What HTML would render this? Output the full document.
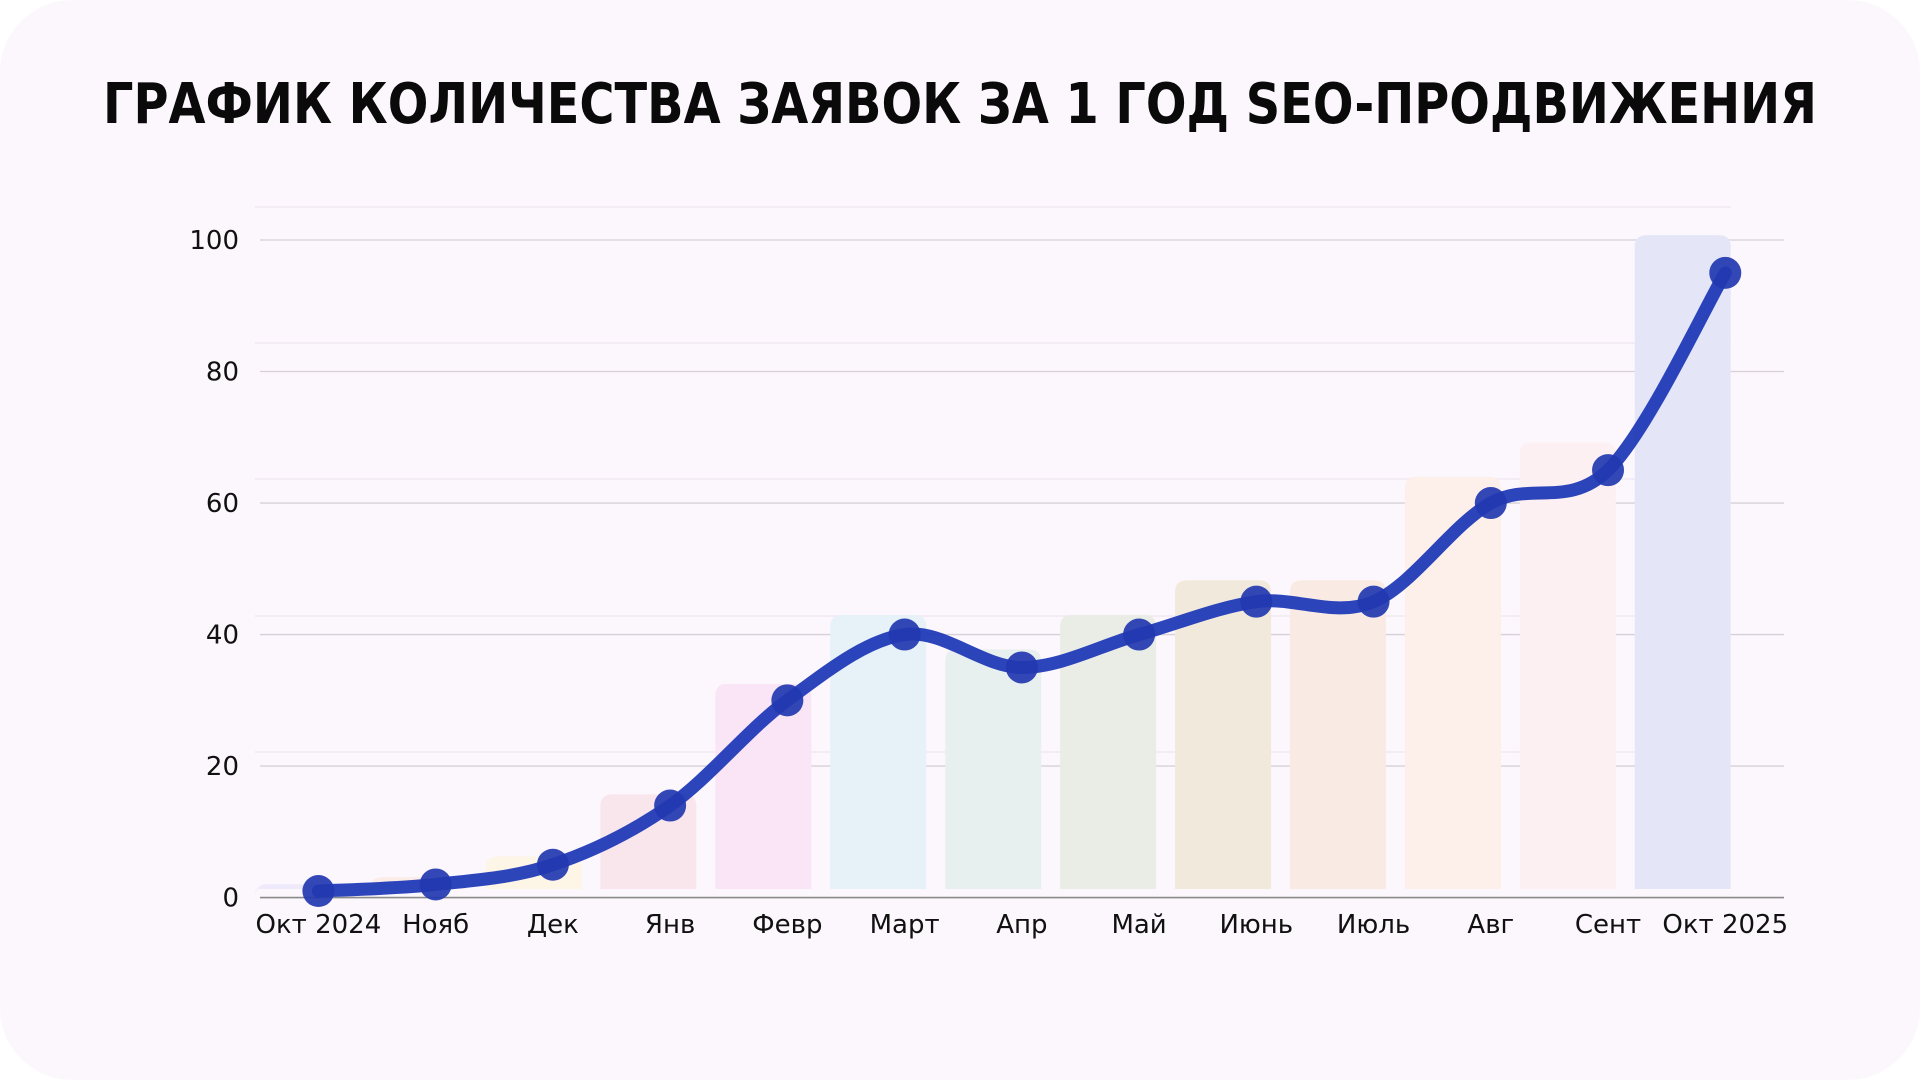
<!DOCTYPE html>
<html><head><meta charset="utf-8"><style>
html,body{margin:0;padding:0;background:#fff;width:1920px;height:1080px;overflow:hidden}
svg{display:block}
text{font-family:"DejaVu Sans","Liberation Sans",sans-serif}
</style></head><body>
<svg id="s" width="1920" height="1080" viewBox="0 0 1920 1080" xmlns="http://www.w3.org/2000/svg">
<rect x="0" y="0" width="1920" height="1080" rx="72" fill="#fcf7fd"/>
<text x="960" y="123" text-anchor="middle" font-family="Liberation Sans, sans-serif" font-weight="bold" font-size="56" textLength="1714" lengthAdjust="spacingAndGlyphs" fill="#0a0a0a">ГРАФИК КОЛИЧЕСТВА ЗАЯВОК ЗА 1 ГОД SEO-ПРОДВИЖЕНИЯ</text>
<g id="grid"></g>
<g id="bars"></g>
<path id="line" fill="none" stroke="#1a35b5" stroke-opacity="0.92" stroke-width="13" stroke-linecap="round"/>
<g id="pts"></g>
<g id="lbl" font-size="26" fill="#111"></g>
</svg>
<script>
(function(){
var NS="http://www.w3.org/2000/svg";
function el(t,a,p){var e=document.createElementNS(NS,t);for(var k in a)e.setAttribute(k,a[k]);document.getElementById(p).appendChild(e);return e;}
var y0=897.6,u=6.576;
function Y(v){return y0-v*u;}
var vals=[1,2,5,14,30,40,35,40,45,45,60,65,95];
var names=["Окт 2024","Нояб","Дек","Янв","Февр","Март","Апр","Май","Июнь","Июль","Авг","Сент","Окт 2025"];
var cols=["#eeeafc","#fbece8","#fdf5e6","#f9e6ec","#f9e5f6","#e6f2f8","#e8f0ef","#eaede6","#f1eadc","#f9ebe3","#fdefe9","#fdf0f3","#e4e6f8"];
[207,343,479,616,752].forEach(function(y){el("line",{x1:255,x2:1731,y1:y,y2:y,stroke:"#f1e9f1","stroke-width":1.5},"grid");});
for(var g=0;g<=100;g+=20){var y=Y(g);el("line",{x1:260,x2:1784,y1:y,y2:y,stroke:g==0?"#8a8a8a":"#d6d0d8","stroke-width":g==0?1.6:1.3},"grid");
var t=el("text",{x:239,y:y+9,"text-anchor":"end"},"lbl");t.textContent=g;}
var xs=[];
for(var i=0;i<13;i++){xs.push(318.4+i*117.24);
var bx=255.6+i*114.93,bt=Y(vals[i]*1.05+1),r=12;
el("path",{d:"M"+bx+" 889V"+(bt+r)+"Q"+bx+" "+bt+" "+(bx+r)+" "+bt+"H"+(bx+96-r)+"Q"+(bx+96)+" "+bt+" "+(bx+96)+" "+(bt+r)+"V889Z",fill:cols[i]},"bars");
var t=el("text",{x:xs[i],y:933,"text-anchor":"middle"},"lbl");t.textContent=names[i];}
var P=xs.map(function(x,i){return [x,Y(vals[i])];});
var d="M"+P[0][0]+" "+P[0][1];
for(var i=0;i<12;i++){var p0=P[Math.max(0,i-1)],p1=P[i],p2=P[i+1],p3=P[Math.min(12,i+2)];
var c1=[p1[0]+(p2[0]-p0[0])/6,p1[1]+(p2[1]-p0[1])/6],c2=[p2[0]-(p3[0]-p1[0])/6,p2[1]-(p3[1]-p1[1])/6];
d+=" C"+c1+" "+c2+" "+p2;}
document.getElementById("line").setAttribute("d",d);
P.forEach(function(p){el("circle",{cx:p[0],cy:p[1],r:16,fill:"#2238b0","fill-opacity":0.92},"pts");});
})();
</script>
</body></html>
